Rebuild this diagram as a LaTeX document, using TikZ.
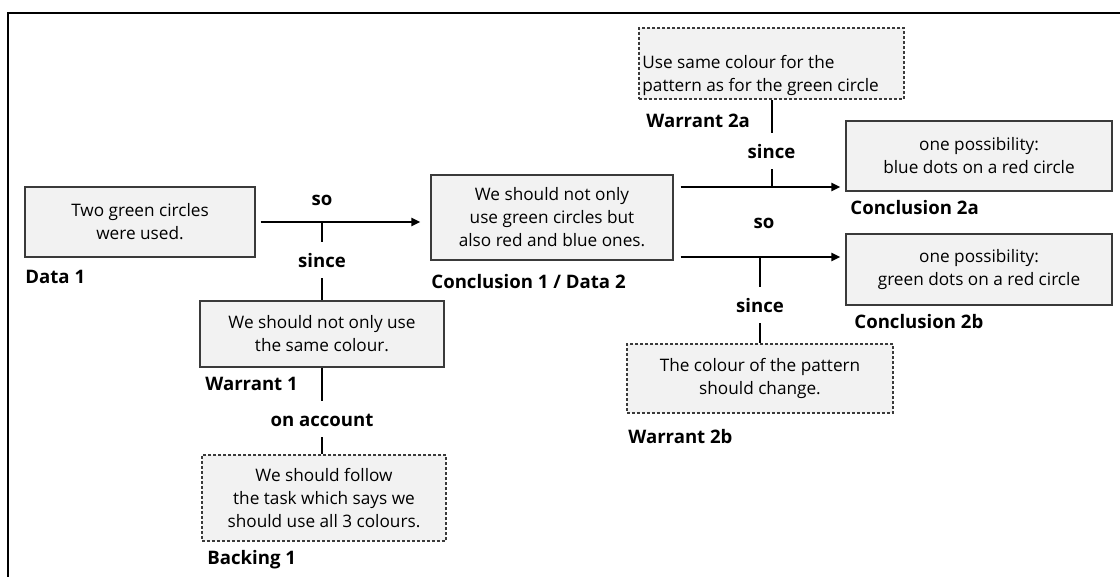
\documentclass[tikz,border=0pt]{standalone}
\usepackage{fontspec}
\setmainfont{Open Sans}
\usetikzlibrary{arrows.meta}
\definecolor{boxfill}{HTML}{F2F2F2}
\definecolor{boxline}{HTML}{3A3A3A}
\begin{document}
\begin{tikzpicture}[x=0.5pt,y=-0.5pt,
    claim/.style={draw=boxline,fill=boxfill,line width=0.6pt,align=center,inner sep=0pt,font=\fontsize{8.6}{11.5}\selectfont},
    dashclaim/.style={claim,dash pattern=on 1.5pt off 1pt},
    tag/.style={anchor=west,inner sep=0pt,font=\fontsize{9.3}{11}\selectfont\bfseries},
    word/.style={inner sep=0pt,font=\fontsize{9.3}{11}\selectfont\bfseries},
    reason/.style={word,anchor=base,fill=white,inner xsep=1pt,text height=13pt,text depth=5pt},
    link/.style={line width=1pt,-{Triangle[length=4.5pt,width=4pt]}},
    tick/.style={line width=1pt}]
    \useasboundingbox (0,0) rectangle (1120,577);
    \draw[line width=1pt] (7.5,577) -- (7.5,13) -- (1120,13);
    \node[claim,minimum width=115pt,minimum height=35pt] (data1) at (140,222) {Two green circles\\were used.};
    \node[claim,minimum width=121pt,minimum height=42.5pt] (concl1) at (552,217.5) {We should not only\\use green circles but\\also red and blue ones.};
    \node[claim,minimum width=122pt,minimum height=33pt] (warr1) at (322,334) {We should not only use\\the same colour.};
    \node[dashclaim,minimum width=122pt,minimum height=43pt] (back1) at (324,498) {We should follow\\the task which says we\\should use all 3 colours.};
    \node[dashclaim,minimum width=132.5pt,minimum height=35.5pt] (warr2a) at (771.5,63.5) {};
    \node[align=left,anchor=west,inner sep=0pt,font=\fontsize{8.6}{11.5}\selectfont] (warr2atext) at (642,75.5) {Use same colour for the\\pattern as for the green circle};
    \node[claim,minimum width=133pt,minimum height=35pt] (concl2a) at (979,156) {one possibility:\\blue dots on a red circle};
    \node[claim,minimum width=133pt,minimum height=35.5pt] (concl2b) at (979,269.5) {one possibility:\\green dots on a red circle};
    \node[dashclaim,minimum width=133pt,minimum height=34.5pt] (warr2b) at (760,378.5) {The colour of the pattern\\should change.};
    \node[tag] (data1tag) at (25,277) {Data 1};
    \node[tag] (concl1tag) at (431,282) {Conclusion 1 / Data 2};
    \node[tag] (warr1tag) at (205,384) {Warrant 1};
    \node[tag] (back1tag) at (207,560) {Backing 1};
    \node[tag] (warr2atag) at (646,121) {Warrant 2a};
    \node[tag] (concl2atag) at (850,208) {Conclusion 2a};
    \node[tag] (concl2btag) at (854,322) {Conclusion 2b};
    \node[tag] (warr2btag) at (628,437) {Warrant 2b};
    \coordinate (row2a) at (0,187);
    \coordinate (row2b) at (0,257);
    \draw[link,shorten <=2.5pt,shorten >=5pt] (data1.east) -- (data1.east -| concl1.west);
    \draw[link,shorten <=3.5pt,shorten >=2.5pt] (concl1.east |- row2a) -- (concl2a.west |- row2a);
    \draw[link,shorten <=3.5pt,shorten >=2.5pt] (concl1.east |- row2b) -- (concl2b.west |- row2b);
    \draw[tick] (warr1.north |- data1.east) -- (warr1.north);
    \draw[tick] (warr1.south) -- (warr1.south |- back1.north);
    \draw[tick] (warr2a.south |- row2a) -- (warr2a.south);
    \draw[tick] (warr2b.north |- row2b) -- (warr2b.north);
    \node[word] (so1) at (322,200) {so};
    \node[word] (so2) at (764,223) {so};
    \node[reason] (since1) at (322,268) {since};
    \node[reason] (account1) at (322,427) {on account};
    \node[reason] (since2a) at (771.5,159) {since};
    \node[reason] (since2b) at (760,313) {since};
\end{tikzpicture}
\end{document}
